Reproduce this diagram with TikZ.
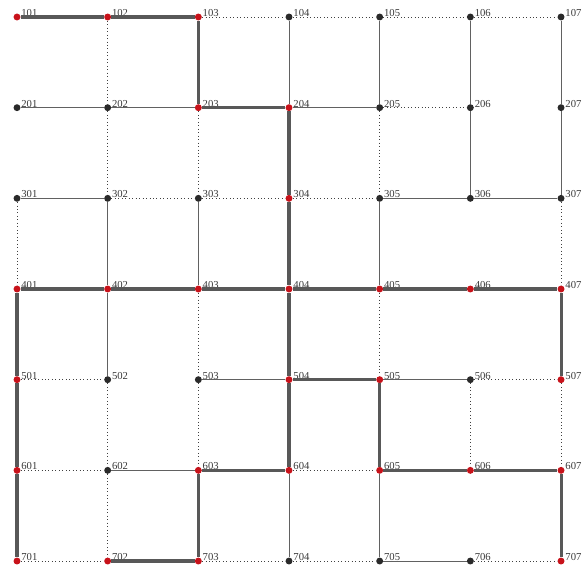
\documentclass[tikz,border=0pt]{standalone}
\usepackage{fontspec}
\setmainfont{Liberation Serif}
\usepackage{xcolor}
\usepackage{tikz}

\definecolor{pathred}{RGB}{200,18,26}
\definecolor{dotgray}{RGB}{42,42,42}
\definecolor{routegray}{RGB}{88,88,88}

% vertices that lie on the route
\tikzset{
  onroute/.style={fill=pathred},
  v101/.style=onroute, v102/.style=onroute, v103/.style=onroute,
  v203/.style=onroute, v204/.style=onroute, v304/.style=onroute,
  v401/.style=onroute, v402/.style=onroute, v403/.style=onroute,
  v404/.style=onroute, v405/.style=onroute, v406/.style=onroute,
  v407/.style=onroute, v501/.style=onroute, v504/.style=onroute,
  v505/.style=onroute, v507/.style=onroute, v601/.style=onroute,
  v603/.style=onroute, v604/.style=onroute, v605/.style=onroute,
  v606/.style=onroute, v607/.style=onroute, v701/.style=onroute,
  v702/.style=onroute, v703/.style=onroute, v707/.style=onroute
}

\begin{document}
\begin{tikzpicture}[x=68pt,y=-68pt,
  vtx/.style={circle,fill=dotgray,inner sep=0pt,minimum size=5.2pt},
  lbl/.style={anchor=base west,inner sep=0pt,xshift=0.3pt,yshift=0.4pt,text=black!78,font=\fontsize{8}{8}\selectfont},
  route/.style={line width=2.3pt,routegray},
  link/.style={line width=0.75pt,black!62},
  spare/.style={line width=0.6pt,dotted,black!75}]
\useasboundingbox (-0.1875,-0.1875) rectangle (6.2975,6.077);
%% grid vertices
\foreach \r in {1,...,7}
  \foreach \c in {1,...,7}
    \node[vtx,v\r0\c/.try,label={[lbl]0:\r0\c}] (n\r0\c) at (\c-1,\r-1) {};
%% route
\foreach \a/\b in {101/102,102/103,103/203,203/204,204/304,304/404,404/504,504/505,
  505/605,605/606,606/607,607/707,401/402,402/403,403/404,404/405,405/406,406/407,
  407/507,401/501,501/601,601/701,504/604,603/604,603/703,702/703}
  \draw[route] (n\a) -- (n\b);
%% solid links
\foreach \a/\b in {201/202,202/203,204/205,301/302,305/306,306/307,503/504,505/506,
  602/603,705/706,302/402,402/502,303/403,104/204,604/704,105/205,305/405,605/705,
  106/206,206/306,107/207,207/307}
  \draw[link] (n\a) -- (n\b);
%% dotted links
\foreach \a/\b in {103/104,104/105,105/106,106/107,205/206,302/303,303/304,304/305,
  501/502,506/507,601/602,604/605,701/702,703/704,704/705,706/707,301/401,102/202,
  202/302,502/602,602/702,203/303,403/503,503/603,205/305,405/505,506/606,307/407,507/607}
  \draw[spare] (n\a) -- (n\b);
\end{tikzpicture}
\end{document}
